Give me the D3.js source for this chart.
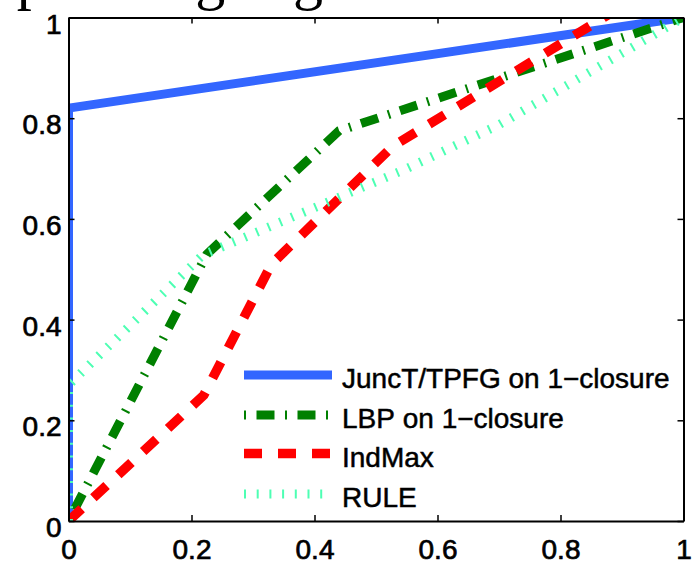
<!DOCTYPE html>
<html><head><meta charset="utf-8">
<script src="https://cdn.jsdelivr.net/npm/d3@7"></script>
<style>html,body{margin:0;padding:0;background:#fff;} svg{display:block} text{font-kerning:none;}</style>
</head><body>
<script>
// ---- data ----
const xTicks = [0, 0.2, 0.4, 0.6, 0.8, 1];
const yTicks = [0, 0.2, 0.4, 0.6, 0.8, 1];
const xTickLabels = ["0", "0.2", "0.4", "0.6", "0.8", "1"];
const yTickLabels = ["0", "0.2", "0.4", "0.6", "0.8", "1"];
const seriesNames = ["JuncT/TPFG on 1\u2212closure", "LBP on 1\u2212closure", "IndMax", "RULE"];
const junctX = [0, 0, 1];
const junctY = [0, 0.82, 1];
const lbpX = [0, 0.225, 0.44, 1];
const lbpY = [0, 0.53, 0.775, 1];
const indmaxX = [0, 0.22, 0.33, 0.527, 0.9];
const indmaxY = [0, 0.25, 0.51, 0.744, 1.022];
const ruleX = [0, 0, 0.218, 0.55, 0.7, 1];
const ruleY = [0, 0.27, 0.528, 0.70, 0.787, 1];
const titleWords = ["Top", "ranking", "grade"];

// ---- styles ----
const colors = ["#3366ff", "#008000", "#ff0000", "#4dffb3"];
const dashes = [null, "2,10.5,18,10.5", "18,16", "2,10.7"];
const widths = [9, 9, 9.5, 9];

const W = 695, H = 562;
const L = 68.5, R = 683.5, T = 17.5, B = 521;

const svg = d3.select("body").append("svg").attr("width", W).attr("height", H);

const x = d3.scaleLinear().domain([0, 1]).range([L, R]);
const y = d3.scaleLinear().domain([0, 1]).range([B, T]);

// cut-off body text above the figure
const tt = svg.append("text").attr("y", -2)
  .attr("font-family", "'Liberation Serif', 'DejaVu Serif', serif")
  .attr("font-size", 60).attr("fill", "#000");
const tx = [-50, 42, 293];
titleWords.forEach((w, i) => tt.append("tspan").attr("x", tx[i]).text(w));

svg.append("defs").append("clipPath").attr("id", "clip")
  .append("rect").attr("x", L).attr("y", T).attr("width", R - L).attr("height", B - T);

const series = [
  {xs: junctX, ys: junctY},
  {xs: lbpX, ys: lbpY},
  {xs: indmaxX, ys: indmaxY},
  {xs: ruleX, ys: ruleY}
];

const line = d3.line().x(d => x(d[0])).y(d => y(d[1]));
const g = svg.append("g").attr("clip-path", "url(#clip)");
series.forEach((s, i) => {
  const pts = s.xs.map((v, j) => [v, s.ys[j]]);
  g.append("path").attr("d", line(pts))
    .attr("fill", "none").attr("stroke", colors[i])
    .attr("stroke-width", widths[i])
    .attr("stroke-dasharray", dashes[i])
    .attr("stroke-linejoin", "miter")
    .attr("stroke-linecap", "butt");
});

// axes
const fontFam = "'Liberation Sans', Arial, Helvetica, sans-serif";
const ax = svg.append("g").attr("transform", `translate(0,${B})`)
  .call(d3.axisBottom(x).tickValues(xTicks).tickSize(-6).tickSizeOuter(0).tickPadding(18)
    .tickFormat((d, i) => xTickLabels[i]));
const ay = svg.append("g").attr("transform", `translate(${L},0)`)
  .call(d3.axisLeft(y).tickValues(yTicks).tickSize(-6).tickSizeOuter(0).tickPadding(7)
    .tickFormat((d, i) => yTickLabels[i]));
const at = svg.append("g").attr("transform", `translate(0,${T})`)
  .call(d3.axisTop(x).tickValues(xTicks).tickSize(-6).tickSizeOuter(0).tickFormat(""));
const ar = svg.append("g").attr("transform", `translate(${R},0)`)
  .call(d3.axisRight(y).tickValues(yTicks).tickSize(-6).tickSizeOuter(0).tickFormat(""));
[ax, ay, at, ar].forEach(a => {
  a.select(".domain").attr("stroke", "#000").attr("stroke-width", 2);
  a.selectAll(".tick line").attr("stroke", "#000").attr("stroke-width", 1.5);
  a.selectAll(".tick text").attr("font-family", fontFam).attr("font-size", 28).attr("fill", "#000")
    .attr("stroke", "#000").attr("stroke-width", 0.7);
});
ay.selectAll(".tick text").attr("dy", "0.56em");

// legend
const legX0 = 244, legX1 = 332, legTx = 342;
const legY = [375, 415, 453.5, 494];
const lg = svg.append("g");
seriesNames.forEach((n, i) => {
  lg.append("line").attr("x1", legX0).attr("x2", legX1).attr("y1", legY[i]).attr("y2", legY[i])
    .attr("stroke", colors[i]).attr("stroke-width", widths[i])
    .attr("stroke-dasharray", dashes[i]);
  lg.append("text").attr("x", legTx).attr("y", legY[i] + 13)
    .attr("font-family", fontFam).attr("font-size", 28).attr("fill", "#000")
    .attr("stroke", "#000").attr("stroke-width", 0.5).text(n);
});
</script>
</body></html>
